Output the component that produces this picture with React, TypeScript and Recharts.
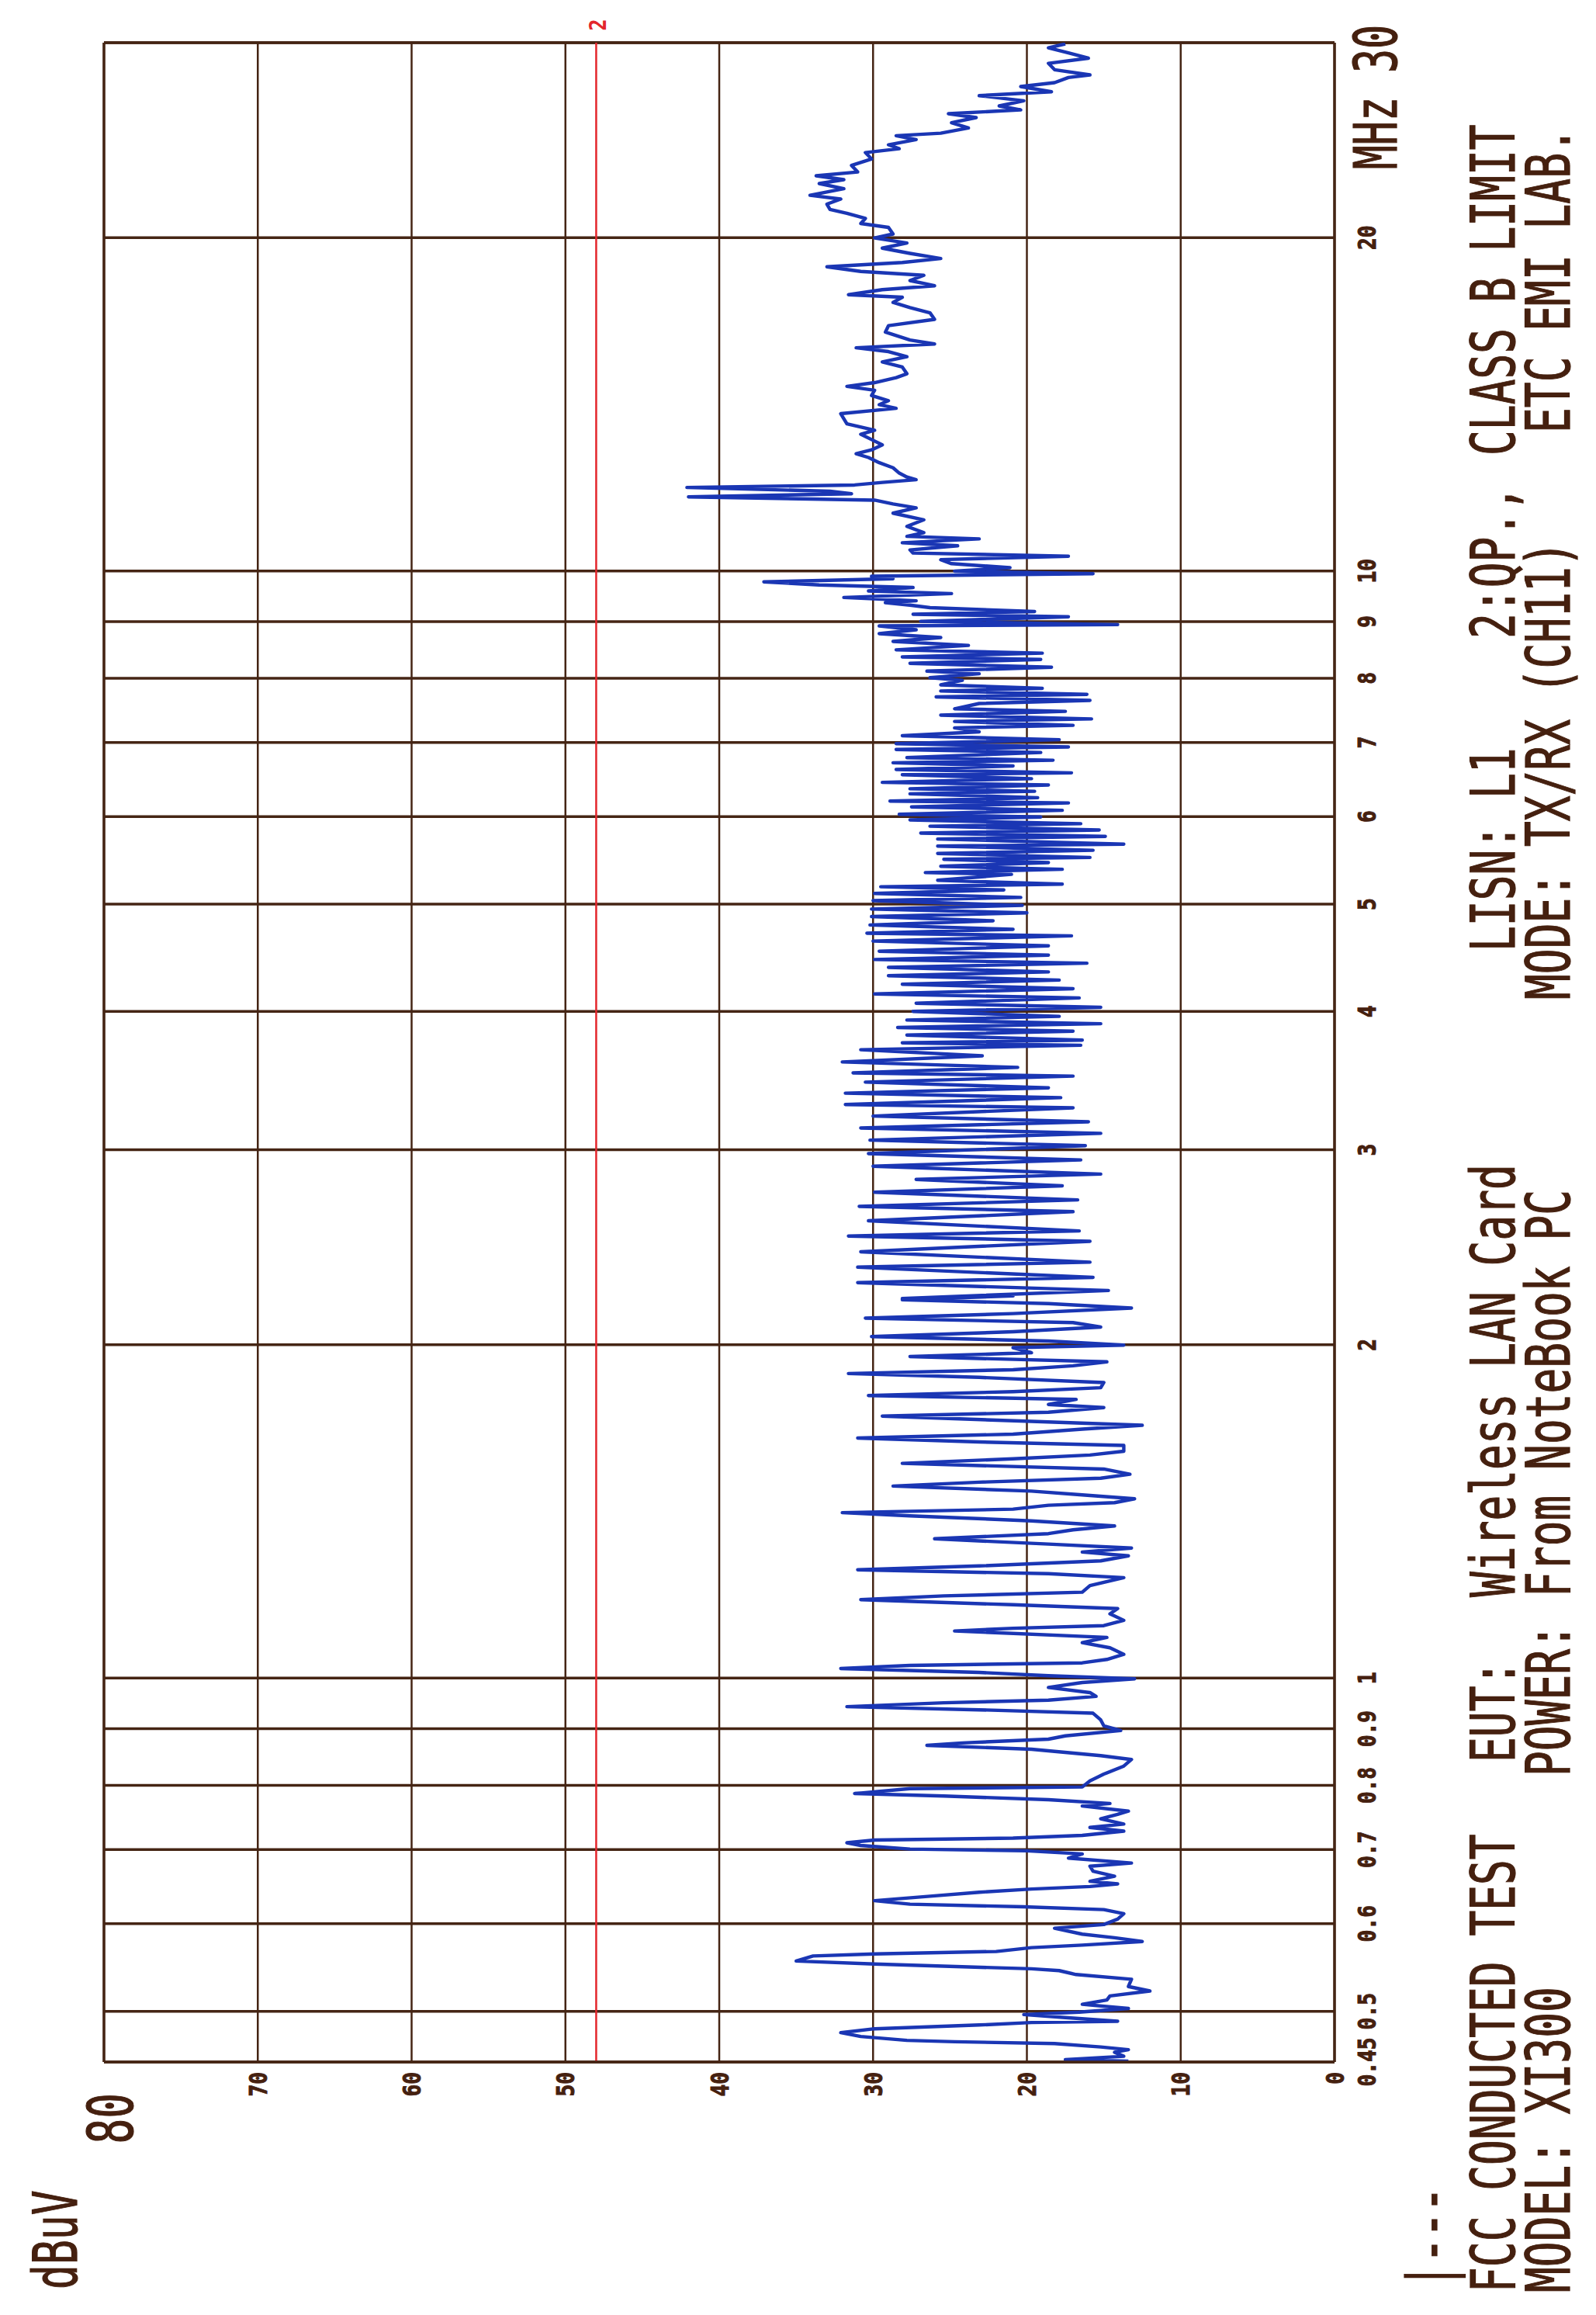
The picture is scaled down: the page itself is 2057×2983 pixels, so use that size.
import React from 'react';
import { LineChart, Line, XAxis, YAxis, CartesianGrid, ReferenceLine } from 'recharts';

type Pt = [number, number];

// ---- measured trace: [frequency MHz, level dBuV] ----
const traceBand1: Pt[] = [
  [0.4508, 13.4], [0.4523, 17.5], [0.4554, 13.7], [0.4592, 14.3], [0.4617, 13.4], [0.4643, 15.2], [0.4676, 18.2],
  [0.4694, 24.7], [0.4707, 27.8], [0.4745, 30.8], [0.4783, 32.1], [0.4822, 29.9], [0.486, 23.1], [0.4885, 19.7],
  [0.4898, 14.1], [0.4936, 17.5], [0.4967, 20.2], [0.4992, 16.6], [0.503, 13.4], [0.5074, 16.4], [0.5119, 14.8],
  [0.5163, 14.6], [0.5216, 12.0], [0.5265, 13.4], [0.5345, 13.2], [0.5398, 16.8], [0.5442, 17.9], [0.5463, 19.7],
  [0.5486, 24.2], [0.5517, 29.9], [0.5552, 35.0], [0.561, 33.9], [0.5634, 29.9], [0.5663, 22.0], [0.5708, 19.7],
  [0.5738, 16.4], [0.5782, 12.5], [0.5827, 14.3], [0.5871, 16.4], [0.5944, 18.2], [0.5989, 15.0], [0.6057, 14.1],
  [0.6126, 13.7], [0.6178, 15.0], [0.6214, 20.2], [0.6248, 27.6], [0.6294, 29.9], [0.6353, 26.3], [0.6406, 23.1],
  [0.6448, 19.7], [0.6482, 15.9], [0.6518, 14.1], [0.6553, 15.9], [0.6623, 14.3], [0.6692, 15.7], [0.6762, 15.9],
  [0.6807, 13.2], [0.6877, 17.3], [0.6937, 16.4], [0.6982, 20.0], [0.7007, 27.6], [0.706, 30.8], [0.71, 31.7],
  [0.714, 29.9], [0.7169, 20.9], [0.7209, 16.4], [0.7273, 13.7], [0.733, 15.9], [0.7382, 13.7], [0.7463, 15.2],
  [0.7531, 14.1], [0.7583, 13.4],
];
const traceBand2: Pt[] = [
  [0.7664, 16.4], [0.7704, 14.6], [0.7765, 18.6], [0.7825, 25.4], [0.7865, 31.2], [0.7946, 27.6], [0.7973, 16.4],
  [0.8075, 15.9], [0.8189, 15.0], [0.8327, 13.7], [0.8442, 13.2], [0.851, 15.2], [0.8624, 19.7], [0.8693, 26.5],
  [0.8738, 24.2], [0.8807, 18.6], [0.8867, 17.5], [0.8967, 13.9], [0.9055, 15.0], [0.9167, 15.2], [0.9295, 15.7],
  [0.9361, 23.1], [0.9423, 31.7], [0.9499, 25.4], [0.955, 18.6], [0.9626, 15.5], [0.9703, 15.9], [0.9806, 18.6],
  [0.9908, 16.4], [0.9985, 13.0], [1.0048, 18.6], [1.0118, 23.1], [1.02, 32.1], [1.0267, 27.6], [1.0321, 16.4],
  [1.0395, 14.8], [1.0506, 13.7], [1.065, 14.6], [1.0764, 16.4], [1.0882, 14.8], [1.1028, 24.7], [1.1091, 20.9],
  [1.1152, 15.0], [1.1276, 13.7], [1.143, 14.6], [1.1555, 14.1], [1.1647, 20.9], [1.177, 30.8], [1.1863, 25.4],
  [1.1955, 16.4], [1.2121, 15.9], [1.2323, 13.7], [1.2424, 18.6], [1.2525, 31.0], [1.2626, 23.1], [1.276, 15.2],
  [1.2895, 13.4], [1.2996, 16.4],
];
const traceBand3: Pt[] = [
  [1.3105, 13.2], [1.3214, 18.6], [1.336, 26.0], [1.3503, 18.6], [1.3612, 17.0], [1.3721, 14.3], [1.3867, 19.7],
  [1.4014, 27.6], [1.4107, 32.0], [1.4208, 20.9], [1.4325, 18.6], [1.4402, 14.3], [1.4519, 13.0], [1.4636, 16.4],
  [1.4752, 19.7], [1.4909, 28.7], [1.5028, 23.1], [1.5153, 15.2], [1.5278, 13.3], [1.5445, 15.0], [1.5628, 28.1],
  [1.5778, 20.9], [1.5903, 15.9], [1.6029, 13.7], [1.6224, 13.7], [1.6341, 23.1], [1.6475, 31.0], [1.6608, 20.9],
  [1.6784, 16.4], [1.6917, 12.5], [1.7054, 19.7], [1.7242, 29.4], [1.7383, 18.6], [1.7552, 15.0], [1.7665, 18.6],
  [1.7853, 16.8], [1.7994, 30.3], [1.8143, 20.9], [1.8293, 15.2], [1.849, 15.0], [1.869, 23.1], [1.8839, 31.6],
  [1.8988, 20.9], [1.9145, 17.0], [1.9303, 14.8], [1.9514, 27.6], [1.9672, 19.7], [1.988, 20.9], [1.9987, 13.7],
  [2.0156, 18.6], [2.0345, 30.1], [2.0548, 20.9], [2.0751, 15.2], [2.0944, 17.0], [2.1137, 30.5], [2.134, 20.9],
  [2.1587, 13.2], [2.179, 18.6], [2.1959, 28.1], [2.2141, 20.9],
];
const traceBand4: Pt[] = [
  [2.2019, 28.1], [2.239, 14.7], [2.2761, 31.0], [2.3006, 15.7], [2.3503, 31.0], [2.3748, 15.9], [2.4267, 30.8],
  [2.4804, 15.9], [2.5075, 31.6], [2.5342, 16.6], [2.5883, 30.3], [2.6379, 17.0], [2.6671, 30.9], [2.7033, 16.7],
  [2.7468, 29.9], [2.7834, 17.7], [2.821, 27.2], [2.8523, 15.2], [2.8991, 30.0], [2.9378, 16.5], [2.9766, 30.3],
  [3.0262, 16.2], [3.0612, 30.2], [3.1046, 15.2], [3.1396, 30.8], [3.1799, 16.0], [3.2181, 30.0], [3.274, 17.0],
  [3.2965, 31.8], [3.3436, 17.8], [3.375, 31.8], [3.4131, 18.6], [3.4534, 30.5], [3.4969, 17.0], [3.5206, 31.3],
  [3.5611, 20.6], [3.6016, 32.0], [3.6475, 22.9], [3.6941, 30.8], [3.7285, 16.5],
];
const traceBand5: Pt[] = [
  [3.7478, 28.1], [3.7684, 16.4], [3.8089, 27.8], [3.8391, 17.0], [3.8694, 28.4], [3.8996, 15.2], [3.9298, 27.8],
  [3.96, 17.9], [4.0006, 27.4], [4.0349, 15.2], [4.0692, 27.2], [4.1144, 16.6], [4.1486, 29.9], [4.1945, 17.0],
  [4.2336, 28.1], [4.2699, 17.9], [4.3089, 29.0], [4.3432, 18.6], [4.3843, 29.0], [4.4226, 16.1], [4.4568, 29.9],
  [4.4979, 18.6], [4.5337, 29.6], [4.585, 18.6], [4.631, 30.0], [4.6815, 17.1], [4.7075, 30.4], [4.7458, 20.9],
  [4.7887, 30.2], [4.83, 22.2], [4.8729, 30.1], [4.9112, 20.0], [4.9495, 30.1], [4.9877, 20.3], [5.0373, 30.0],
  [5.0712, 20.4], [5.1136, 29.9], [5.1508, 21.5], [5.1848, 29.5], [5.2127, 17.7], [5.2551, 25.8], [5.3203, 21.0],
  [5.3398, 26.6], [5.3763, 17.7], [5.4102, 25.6], [5.4525, 18.6], [5.4898, 25.4], [5.5102, 15.9], [5.5565, 25.8],
  [5.5935, 15.7], [5.6426, 25.8], [5.6648, 13.7], [5.7259, 25.8], [5.7574, 14.9], [5.7972, 26.9], [5.8343, 15.3],
  [5.8806, 26.3], [5.9111, 16.5], [5.9574, 27.6], [5.9944, 19.1], [6.0282, 28.3], [6.0786, 17.7], [6.122, 27.5],
  [6.1724, 17.3], [6.1956, 28.9], [6.2399, 19.3], [6.2903, 27.6], [6.3236, 19.5],
];
const traceBand6: Pt[] = [
  [6.3569, 27.6], [6.4073, 18.6], [6.4415, 29.4], [6.4919, 19.7], [6.5459, 28.1], [6.571, 17.1], [6.6179, 28.5],
  [6.666, 20.9], [6.7097, 28.7], [6.7457, 18.3], [6.7817, 27.8], [6.8549, 19.1], [6.8985, 28.5], [6.9345, 17.3],
  [6.9825, 28.5], [7.0397, 17.9], [7.0981, 28.1], [7.1565, 23.1], [7.2149, 24.7], [7.2535, 17.0], [7.3119, 24.7],
  [7.3505, 15.8], [7.4089, 25.6], [7.4673, 17.5], [7.5075, 24.7], [7.59, 23.1], [7.64, 15.9], [7.695, 25.9],
  [7.7363, 16.1], [7.79, 25.6], [7.8325, 19.0], [7.89, 25.6], [7.965, 24.2], [8.008, 26.3], [8.0745, 23.1],
  [8.1184, 26.5], [8.1849, 18.4], [8.2514, 27.6], [8.3179, 19.1], [8.3617, 28.1], [8.4282, 19.0], [8.4867, 28.5],
  [8.5652, 23.8], [8.636, 28.7], [8.7068, 25.6], [8.7776, 29.6], [8.8485, 27.2], [8.9193, 29.6], [8.9433, 14.1],
  [9.0045, 26.9], [9.0896, 17.3], [9.1388, 27.4], [9.1896, 19.5], [9.2642, 26.3], [9.3135, 27.6], [9.3627, 29.2],
  [9.3986, 27.2], [9.4627, 31.9], [9.5393, 24.9], [9.5912, 30.3], [9.6604, 27.4], [9.7123, 33.5], [9.7752, 37.1],
  [9.8381, 28.7], [9.8899, 30.1], [9.9434, 15.7], [9.995, 24.7], [10.068, 21.1], [10.152, 24.9], [10.237, 25.6],
  [10.311, 17.3], [10.379, 27.4], [10.447, 27.6], [10.536, 24.5], [10.604, 28.1], [10.689, 23.1], [10.745, 27.8],
  [10.829, 26.7],
];
const traceBand7: Pt[] = [
  [10.971, 27.8], [11.122, 26.7], [11.276, 28.7], [11.401, 27.2], [11.493, 28.7], [11.586, 29.9], [11.666, 42.0],
  [11.74, 31.4], [11.803, 32.8], [11.896, 42.1], [11.957, 31.2], [12.02, 29.4], [12.089, 27.2], [12.156, 27.8],
  [12.257, 28.3], [12.392, 28.7], [12.525, 29.6], [12.661, 30.3], [12.762, 31.1], [12.863, 30.1], [12.998, 29.4],
  [13.142, 30.1], [13.288, 30.8], [13.397, 29.9], [13.578, 31.7], [13.724, 31.9], [13.869, 32.1], [14.023, 28.5],
  [14.131, 29.6], [14.248, 29.0], [14.404, 30.1], [14.561, 29.9], [14.678, 31.7], [14.794, 29.9], [14.949, 28.5],
  [15.07, 27.8], [15.28, 28.1], [15.445, 29.4], [15.613, 27.8], [15.78, 29.0], [15.905, 31.1], [16.032, 26.0],
  [16.165, 27.6], [16.432, 29.2], [16.653, 29.0], [16.875, 26.0], [17.104, 26.3], [17.29, 27.6], [17.479, 28.7],
  [17.667, 28.1], [17.761, 31.6], [17.949, 29.4], [18.096, 26.0], [18.293, 27.6], [18.493, 26.7], [18.642, 30.8],
];
const traceBand8: Pt[] = [
  [18.823, 33.0], [18.991, 28.1], [19.148, 25.6], [19.356, 27.6], [19.568, 29.4], [19.779, 27.8], [19.987, 29.9],
  [20.152, 28.7], [20.43, 29.0], [20.596, 30.8], [20.815, 30.5], [21.038, 31.7], [21.211, 32.8], [21.443, 33.0],
  [21.671, 32.1], [21.844, 34.1], [22.142, 31.9], [22.382, 33.5], [22.564, 31.9], [22.745, 33.7], [22.927, 31.0],
  [23.242, 31.4], [23.557, 30.1], [23.871, 30.5], [24.063, 28.3], [24.261, 29.0], [24.526, 27.2], [24.723, 28.5],
  [24.854, 25.6], [25.124, 23.8], [25.401, 24.9], [25.674, 23.3], [25.88, 25.1], [26.089, 20.4], [26.302, 21.8],
  [26.587, 20.2], [26.872, 23.1], [27.089, 18.4], [27.384, 20.4], [27.607, 18.2], [27.906, 17.3], [28.055, 15.9],
  [28.361, 18.2], [28.74, 18.6], [29.048, 16.0], [29.368, 17.3], [29.684, 18.6], [29.923, 17.5],
];

// ---- axes / annotations ----
const freqTicks = [0.45, 0.5, 0.6, 0.7, 0.8, 0.9, 1, 2, 3, 4, 5, 6, 7, 8, 9, 10, 20, 30];
const freqTickLabels = ['0.45', '0.5', '0.6', '0.7', '0.8', '0.9', '1', '2', '3', '4', '5', '6', '7', '8', '9', '10', '20', '30'];
const levelTicks = [0, 10, 20, 30, 40, 50, 60, 70, 80];
const levelTickLabels = ['0', '10', '20', '30', '40', '50', '60', '70', '80'];
const qpLimit = 48;
const limitMarker = '2';
const unitLevel = 'dBuV';
const unitFreq = 'MHz';
const legendMark = '|---';
const headerLine1 = ['FCC CONDUCTED TEST', 'EUT:', 'Wireless LAN Card', 'LISN: L1', '2:QP.,', 'CLASS B LIMIT'];
const headerLine2 = ['MODEL: XI300', 'POWER:', 'From NoteBook PC', 'MODE: TX/RX (CH11)', 'ETC EMI LAB.'];

// ---- layout (unrotated frame; the whole sheet is turned 90° counter-clockwise) ----
const W = 2983;
const H = 2057;
const PLOT_BOTTOM = 1720;
const GRID = '#452514';
const INK = '#45200f';
const TRACE = '#1a36b4';
const LIMIT = '#e3262c';
const MONO = '"DejaVu Sans Mono", "Liberation Mono", monospace';
const line1X = [29, 712, 925, 1757, 2160, 2396];
const line2X = [29, 694, 925, 1695, 2425];

const renderFreqTick = (props: any) => {
  const { x, payload } = props;
  const v = payload.value;
  const idx = freqTicks.indexOf(v);
  if (v === 30) {
    return (
      <g>
        <text transform={`translate(${x - 8},${PLOT_BOTTOM + 80}) scale(0.68,1)`} textAnchor="middle"
          fontFamily={MONO} fontSize={76} fill={INK} stroke={INK} strokeWidth={1.2}>{freqTickLabels[idx]}</text>
        <text transform={`translate(${x - 70},${PLOT_BOTTOM + 80}) scale(0.68,1)`} textAnchor="end"
          fontFamily={MONO} fontSize={76} fill={INK} stroke={INK} strokeWidth={1.2}>{unitFreq}</text>
      </g>
    );
  }
  return (
    <text transform={`translate(${x},${PLOT_BOTTOM + 53}) scale(0.82,1)`} textAnchor="middle"
      fontFamily={MONO} fontWeight={700} fontSize={32} fill={INK} stroke={INK} strokeWidth={1}>{freqTickLabels[idx]}</text>
  );
};

const renderLevelTick = (props: any) => {
  const { y, payload } = props;
  const v = payload.value;
  const idx = levelTicks.indexOf(v);
  if (v === 80) {
    return (
      <text transform={`translate(286,${y + 37}) scale(0.68,1)`} textAnchor="end"
        fontFamily={MONO} fontSize={80} fill={INK} stroke={INK} strokeWidth={1.2}>{levelTickLabels[idx]}</text>
    );
  }
  return (
    <text transform={`translate(313,${y + 11.5}) scale(0.82,1)`} textAnchor="end"
      fontFamily={MONO} fontWeight={700} fontSize={32} fill={INK} stroke={INK} strokeWidth={1}>{levelTickLabels[idx]}</text>
  );
};

export default function App() {
  const data = [
    ...traceBand1, ...traceBand2, ...traceBand3, ...traceBand4,
    ...traceBand5, ...traceBand6, ...traceBand7, ...traceBand8,
  ].map(([f, level]) => ({ f, level }));

  return (
    <div style={{ position: 'absolute', left: 0, top: 0, width: 2057, height: 2983, overflow: 'hidden', background: '#ffffff' }}>
      <div style={{ position: 'absolute', left: 0, top: 2983, width: W, height: H, transform: 'rotate(-90deg)', transformOrigin: '0 0' }}>
        <LineChart width={W} height={H} data={data} margin={{ top: 134, right: 55, bottom: 307, left: 266 }}>
          <CartesianGrid horizontal={false} stroke={GRID} strokeWidth={3.5} />
          <CartesianGrid vertical={false} stroke={GRID} strokeWidth={2.5} />
          <XAxis dataKey="f" type="number" scale="log" domain={[0.45, 30]} ticks={freqTicks} interval={0}
            allowDataOverflow height={30} axisLine={{ stroke: GRID, strokeWidth: 3.5 }} tickLine={false}
            tick={renderFreqTick} />
          <YAxis type="number" domain={[0, 80]} ticks={levelTicks} interval={0} width={60}
            axisLine={{ stroke: GRID, strokeWidth: 3.5 }} tickLine={false} tick={renderLevelTick} />
          <ReferenceLine y={80} stroke={GRID} strokeWidth={3.5} />
          <ReferenceLine x={30} stroke={GRID} strokeWidth={3.5} />
          <ReferenceLine y={qpLimit} stroke={LIMIT} strokeWidth={2.5} />
          <Line dataKey="level" type="linear" stroke={TRACE} strokeWidth={4.4} dot={false}
            strokeLinejoin="round" isAnimationActive={false} />
        </LineChart>
        <svg width={W} height={H} style={{ position: 'absolute', left: 0, top: 0, pointerEvents: 'none' }}>
          <text transform="translate(33,99) scale(0.68,1)" fontFamily={MONO} fontSize={78} fill={INK}
            stroke={INK} strokeWidth={1.2}>{unitLevel}</text>
          <text transform="translate(2951,781) scale(0.85,1)" textAnchor="middle" fontFamily={MONO} fontWeight={700}
            fontSize={30} fill={LIMIT}>{limitMarker}</text>
          <text transform="translate(34,1870) scale(0.69,1)" fontFamily={MONO} fontSize={79} fill={INK}
            stroke={INK} strokeWidth={1.2}>{legendMark}</text>
          {headerLine1.map((t, i) => (
            <text key={'a' + i} transform={`translate(${line1X[i]},1952) scale(0.69,1)`} fontFamily={MONO}
              fontSize={79} fill={INK} stroke={INK} strokeWidth={1.2}>{t}</text>
          ))}
          {headerLine2.map((t, i) => (
            <text key={'b' + i} transform={`translate(${line2X[i]},2023) scale(0.69,1)`} fontFamily={MONO}
              fontSize={79} fill={INK} stroke={INK} strokeWidth={1.2}>{t}</text>
          ))}
        </svg>
      </div>
    </div>
  );
}
